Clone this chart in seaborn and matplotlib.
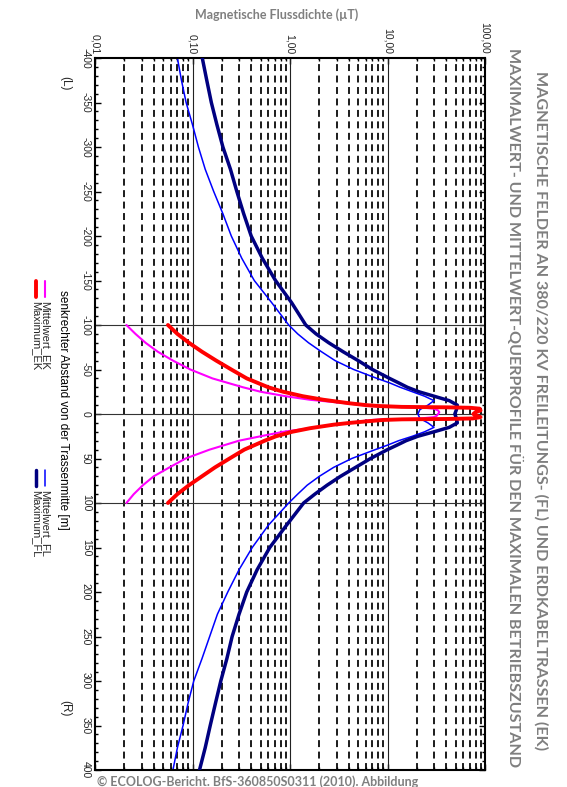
import matplotlib
matplotlib.use("Agg")
import matplotlib.pyplot as plt
import seaborn as sns
import pandas as pd
from matplotlib.lines import Line2D
from matplotlib.ticker import LogLocator, MultipleLocator, NullFormatter

# ---------------- data ----------------
dist_fl = [-400, -375, -350, -325, -300, -275, -250, -225, -200, -175, -150, -125, -100,
           -90, -80, -70, -60, -50, -40, -35, -30, -25, -20, -15, -10, -5, 0,
           5, 10, 15, 20, 25, 30, 35, 40, 50, 60, 70, 80, 90,
           100, 125, 150, 175, 200, 225, 250, 275, 300, 325, 350, 375, 400]
maximum_fl = [0.126, 0.14, 0.156, 0.178, 0.205, 0.245, 0.285, 0.335, 0.40, 0.52, 0.71, 1.04, 1.45,
              1.85, 2.5, 3.5, 5.0, 7.0, 10.5, 13, 16, 21, 30, 43, 52, 51, 49,
              51, 52, 43, 30, 20.5, 15.5, 12.5, 10, 6.7, 4.7, 3.3, 2.4, 1.8,
              1.38, 0.92, 0.62, 0.46, 0.36, 0.30, 0.255, 0.225, 0.195, 0.172, 0.152, 0.135, 0.118]
mittelwert_fl = [0.07, 0.077, 0.086, 0.10, 0.115, 0.135, 0.165, 0.205, 0.25, 0.32, 0.43, 0.65, 0.97,
                 1.2, 1.55, 2.1, 2.9, 4.5, 7.8, 10.5, 13.5, 18, 24, 30, 26, 21.5, 20.5,
                 21.5, 26, 30, 24, 18, 13, 10, 7.5, 4.3, 2.8, 2.0, 1.5, 1.2,
                 0.97, 0.6, 0.41, 0.30, 0.23, 0.18, 0.15, 0.125, 0.103, 0.09, 0.08, 0.07, 0.063]

dist_ek = [-100, -90, -80, -70, -60, -50, -40, -30, -25, -20, -16, -12, -10, -9, -8, -7.5, -7,
           -6, -4, -2, 0, 2, 3.5, 5, 5.6, 6, 6.7, 8, 10, 12, 16, 20, 25, 30, 40, 50, 60, 70,
           80, 90, 100]
maximum_ek = [0.056, 0.07, 0.092, 0.125, 0.175, 0.25, 0.36, 0.6, 0.85, 1.35, 2.2, 4.1, 6.0, 8.0,
              14, 40, 70, 88, 90, 80, 76, 82, 90, 75, 40, 14, 9, 6.5, 4.1, 2.8, 1.6, 1.05, 0.72,
              0.55, 0.34, 0.24, 0.17, 0.125, 0.092, 0.07, 0.056]
mittelwert_ek = [0.021, 0.026, 0.033, 0.044, 0.063, 0.095, 0.16, 0.33, 0.5, 0.9, 1.6, 3.8, 5.5, 6.5,
                 12, 18, 24, 30, 33, 34, 33, 32, 30, 22, 15, 9, 7, 5.5, 4.0, 2.9, 1.6, 0.85, 0.5,
                 0.3, 0.15, 0.085, 0.058, 0.04, 0.031, 0.025, 0.021]

x_ticks = [0.01, 0.1, 1, 10, 100]
x_tick_labels = ["0,01", "0,10", "1,00", "10,00", "100,00"]
y_ticks = list(range(-400, 401, 50))
y_tick_labels = [str(v) for v in y_ticks]

series = [
    ("Mittelwert_FL", dist_fl, mittelwert_fl, "#0000FF", 1.1, 2),
    ("Maximum_FL", dist_fl, maximum_fl, "#000080", 2.5, 3),
    ("Mittelwert_EK", dist_ek, mittelwert_ek, "#FF00FF", 1.5, 4),
    ("Maximum_EK", dist_ek, maximum_ek, "#FF0000", 2.8, 5),
]

# ---------------- figure ----------------
sns.set_style("ticks")
plt.rcParams["font.family"] = ["Liberation Sans Narrow", "Liberation Sans", "DejaVu Sans"]

W, H = 567, 787
fig = plt.figure(figsize=(W / 100, H / 100), dpi=100)


def fx(px):
    return px / W


def fy(py):
    return 1 - py / H


ax = fig.add_axes([fx(95), fy(770), fx(485) - fx(95), fy(58) - fy(770)])
ax.set_xscale("log")
ax.set_xlim(0.01, 100)
ax.set_ylim(400, -400)

# dashed grid at the minor log positions, solid lines at decades
for dec in [0.01, 0.1, 1, 10]:
    for m in range(2, 10):
        ax.axvline(m * dec, color="black", lw=1.25, ls=(0, (4.0, 2.6)), zorder=1)
for dec in [0.1, 1, 10]:
    ax.axvline(dec, color="#222222", lw=0.8, zorder=1)
for yv in [-100, 0, 100]:
    ax.axhline(yv, color="#333333", lw=0.8, zorder=1)

for name, d, v, c, lw, z in series:
    df = pd.DataFrame({"B": v, "d": d})
    sns.lineplot(data=df, x="B", y="d", orient="y", estimator=None, sort=True,
                 color=c, lw=lw, ax=ax, zorder=z, legend=False)

ax.set_xlabel("")
ax.set_ylabel("")
for s in ax.spines.values():
    s.set_linewidth(1.5)
    s.set_color("black")

ax.set_xticks(x_ticks)
ax.set_xticklabels(x_tick_labels, rotation=-90, fontsize=7.5)
ax.xaxis.set_minor_locator(LogLocator(base=10, subs=range(2, 10), numticks=20))
ax.xaxis.set_minor_formatter(NullFormatter())
ax.set_yticks(y_ticks)
ax.set_yticklabels(y_tick_labels, rotation=-90, fontsize=7.5, va="center")
ax.yaxis.set_minor_locator(MultipleLocator(10))
ax.tick_params(which="both", direction="in", top=True, bottom=True, left=True, right=True,
               labeltop=True, labelbottom=False, labelleft=True, labelright=False,
               color="black", width=1.0)
ax.tick_params(which="major", length=4, pad=3)
ax.tick_params(which="minor", length=2.5)

# ---------------- texts ----------------
grey = "#7f7f7f"
fig.text(fx(541), fy(411), "MAGNETISCHE FELDER AN 380/220 KV FREILEITUNGS- (FL) UND ERDKABELTRASSEN (EK)",
         rotation=-90, ha="center", va="center", fontsize=11.6, fontweight="bold",
         color=grey, family=["Lato", "DejaVu Sans"])
fig.text(fx(514), fy(408), "MAXIMALWERT- UND MITTELWERT-QUERPROFILE FÜR DEN MAXIMALEN BETRIEBSZUSTAND",
         rotation=-90, ha="center", va="center", fontsize=11.6, fontweight="bold",
         color=grey, family=["Lato", "DejaVu Sans"])
fig.text(fx(277), fy(15), "Magnetische Flussdichte (\u00b5T)", ha="center", va="center",
         fontsize=9, fontweight="bold", color=grey, family=["Lato", "DejaVu Sans"])
fig.text(fx(97), fy(775), "\u00a9 ECOLOG-Bericht. BfS-360850S0311 (2010). Abbildung", ha="left", va="top",
         fontsize=9, fontweight="bold", color=grey, family=["Lato", "DejaVu Sans"])

fig.text(fx(63), fy(410), "senkrechter Abstand von der Trassenmitte [m]", rotation=-90,
         ha="center", va="center", fontsize=8.5, color="black")
fig.text(fx(65), fy(83), "(L)", rotation=-90, ha="center", va="center", fontsize=8.5)
fig.text(fx(65), fy(708), "(R)", rotation=-90, ha="center", va="center", fontsize=8.5)

# legend (rotated, drawn by hand)
legend_items = [
    ("Mittelwert_EK", "#FF00FF", 1.5, 45, 281),
    ("Maximum_EK", "#FF0000", 2.8, 36, 281),
    ("Mittelwert_FL", "#0000FF", 1.1, 45, 470),
    ("Maximum_FL", "#000080", 2.5, 36, 470),
]
for label, c, lw, px, py in legend_items:
    fig.add_artist(Line2D([fx(px), fx(px)], [fy(py), fy(py + 16)], transform=fig.transFigure,
                          color=c, lw=lw))
    fig.text(fx(px), fy(py + 20), label, rotation=-90, ha="center", va="top", fontsize=8)

fig.savefig("out.png", dpi=100)
